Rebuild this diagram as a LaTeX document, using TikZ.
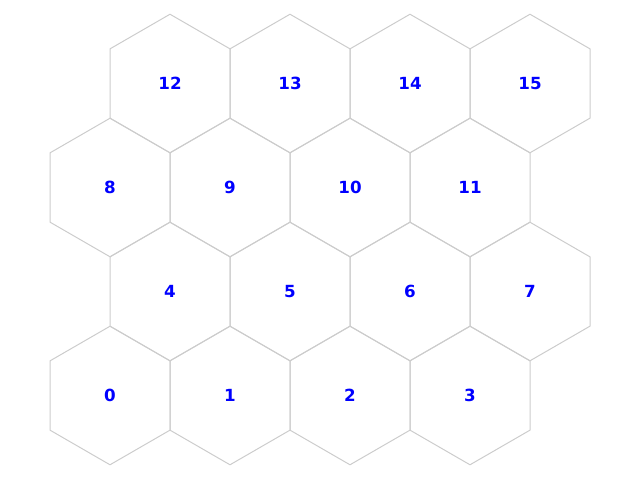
\documentclass[tikz,border=0pt]{standalone}
\usepackage{fontspec}
\setmainfont{DejaVu Sans}
\usetikzlibrary{shapes.geometric}
\definecolor{hexgray}{HTML}{CCCCCC}
\begin{document}
\begin{tikzpicture}[x=1pt,y=-1pt]
\tikzstyle{hex} = [regular polygon, regular polygon sides=6, shape border rotate=30, draw=hexgray, line width=1pt, minimum size=138.56pt, inner sep=0pt, text height=12.2pt, text depth=0pt, text=blue, font=\fontsize{16.7}{20}\selectfont\bfseries]

\useasboundingbox (0,0) rectangle (640,480);

% bottom row
\node (h0) [hex] at (110,395.5) {0};
\node (h1) [hex] at (230,395.5) {1};
\node (h2) [hex] at (350,395.5) {2};
\node (h3) [hex] at (470,395.5) {3};
% second row
\node (h4) [hex] at (170,291.5) {4};
\node (h5) [hex] at (290,291.5) {5};
\node (h6) [hex] at (410,291.5) {6};
\node (h7) [hex] at (530,291.5) {7};
% third row
\node (h8) [hex] at (110,187.5) {8};
\node (h9) [hex] at (230,187.5) {9};
\node (h10) [hex] at (350,187.5) {10};
\node (h11) [hex] at (470,187.5) {11};
% top row
\node (h12) [hex] at (170,83.5) {12};
\node (h13) [hex] at (290,83.5) {13};
\node (h14) [hex] at (410,83.5) {14};
\node (h15) [hex] at (530,83.5) {15};
\end{tikzpicture}
\end{document}
